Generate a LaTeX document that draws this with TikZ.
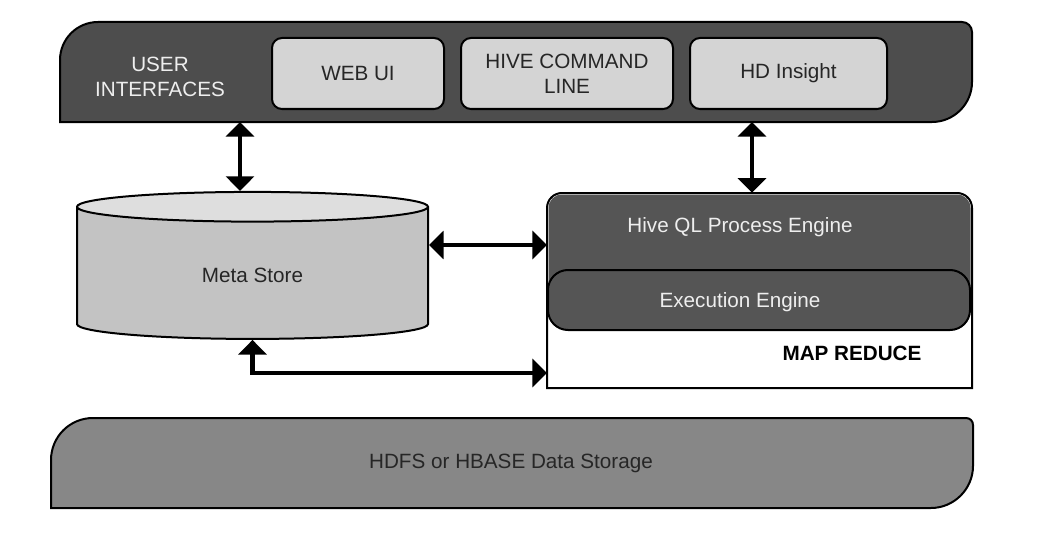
\documentclass[tikz,border=0pt]{standalone}
\usepackage{fontspec}
\setmainfont{Liberation Sans}
\usetikzlibrary{positioning, calc, arrows.meta, shapes.geometric}

\definecolor{bandgray}{HTML}{4D4D4D}
\definecolor{boxgray}{HTML}{D4D4D4}
\definecolor{storegray}{HTML}{C3C3C3}
\definecolor{storetop}{HTML}{DEDEDE}
\definecolor{enginegray}{HTML}{555555}
\definecolor{diskgray}{HTML}{878787}
\definecolor{paletext}{HTML}{EEEEEE}

\tikzset{
  label font/.style={font=\fontsize{15.5}{19}\selectfont},
  uibox/.style={draw, line width=1.5pt, fill=boxgray, rounded corners=7.5pt, minimum height=53.25pt, align=center, text=black!85, label font},
  biarrow/.style={{Triangle[width=21pt,length=11pt]}-{Triangle[width=21pt,length=11pt]}, line width=3.5pt},
}

\begin{document}
\begin{tikzpicture}[x=0.75pt, y=-0.75pt]
    \useasboundingbox (0,0) rectangle (1053,535);

    % Draw user interface band
    \draw[line width=1.5pt, fill=bandgray] (60,122) -- (60,60) .. controls (60,39) and (77,22) .. (98,22) -- (962,22) .. controls (967.5,22) and (972,26.5) .. (972,32) -- (972,82) .. controls (972,104) and (954,122) .. (932,122) -- cycle;
    \node[label font, text=paletext, align=center] (uilabel) at (160,77) {USER\\INTERFACES};

    % Interfaces
    \foreach \n/\x/\w/\t in {webui/358/129pt/WEB UI, hivecmd/567/159pt/{HIVE COMMAND\\LINE}, hdinsight/788.5/147.75pt/HD Insight} {
      \node[uibox, minimum width=\w] (\n) at (\x,73.5) {\t};
    }
    \coordinate (uiA) at (240,122);
    \coordinate (uiB) at (752,122);

    % Meta store
    \node[cylinder, shape border rotate=90, aspect=0.27, draw, line width=1.5pt,
          cylinder uses custom fill, cylinder end fill=storetop, cylinder body fill=storegray,
          minimum width=263.25pt, minimum height=110.25pt, label font, text=black!85] (meta) at (252.5,275) {Meta Store};

    % Map reduce block with the engines
    \node[minimum width=318.75pt, minimum height=146.25pt] (mapred) at (759.5,290.5) {};
    \draw[line width=1.5pt, fill=white] (547,388) -- (547,208) .. controls (547,199.7) and (553.7,193) .. (562,193) -- (957,193) .. controls (965.3,193) and (972,199.7) .. (972,208) -- (972,388) -- cycle;
    \fill[enginegray] (548.5,300) -- (548.5,208) .. controls (548.5,200.5) and (554.5,194.5) .. (562,194.5) -- (957,194.5) .. controls (964.5,194.5) and (970.5,200.5) .. (970.5,208) -- (970.5,300) -- cycle;
    \node[label font, text=paletext] (hiveql) at (740,227) {Hive QL Process Engine};
    \node[draw, line width=1.5pt, fill=enginegray, rounded corners=15pt, minimum width=316.5pt, minimum height=45pt] (exec) at (759,300) {};
    \node[label font, text=paletext] (execlabel) at (740,302) {Execution Engine};
    \node[label font, font=\bfseries\fontsize{15.5}{19}\selectfont] (mrlabel) at (852,353) {MAP REDUCE};
    \coordinate (hivein) at (547,245);
    \coordinate (mrin) at (547,373);

    % Connections
    \draw[biarrow] (uiA) -- (uiA |- meta.north);
    \draw[biarrow] (uiB) -- (uiB |- mapred.north);
    \draw[biarrow] (hivein -| meta.east) -- (hivein);
    \draw[biarrow] (meta.south) -- (meta.south |- mrin) -- (mrin);

    % Data storage band
    \draw[line width=1.5pt, fill=diskgray] (51,508) -- (51,460) .. controls (51,436.8) and (69.8,418) .. (93,418) -- (966,418) .. controls (970,418) and (973,421) .. (973,425) -- (973,466) .. controls (973,489) and (954,508) .. (931,508) -- cycle;
    \node[label font, text=black!85] (hdfs) at (511,463) {HDFS or HBASE Data Storage};
  \end{tikzpicture}
\end{document}
